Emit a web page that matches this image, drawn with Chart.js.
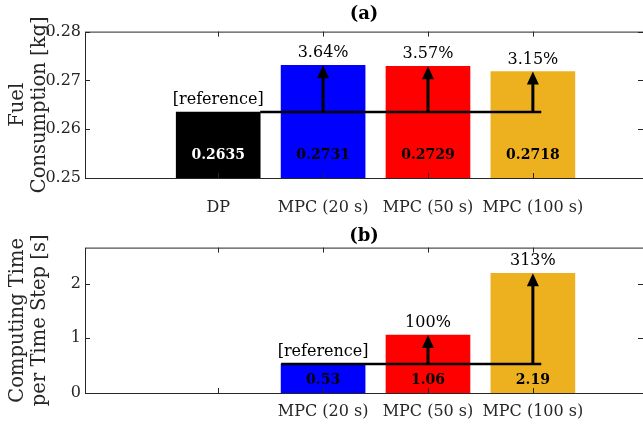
<!DOCTYPE html>
<html>
<head>
<meta charset="utf-8">
<script src="https://cdn.jsdelivr.net/npm/chart.js@4.4.1/dist/chart.umd.min.js"></script>
<style>
  html, body { margin: 0; padding: 0; background: #fff; overflow: hidden; }
  #wrap { position: relative; width: 643px; height: 426px; }
  canvas { position: absolute; left: 0; }
  #fuel { top: 0; }
  #time { top: 220px; }
</style>
</head>
<body>
<div id="wrap">
  <canvas id="fuel" width="643" height="220"></canvas>
  <canvas id="time" width="643" height="206"></canvas>
</div>
<script>
// (a) fuel consumption
const fuelCategories = ['DP', 'MPC (20 s)', 'MPC (50 s)', 'MPC (100 s)'];
const fuelValues = [0.2635, 0.2731, 0.2729, 0.2718];
const fuelIncrease = ['', '3.64%', '3.57%', '3.15%'];
const fuelTicks = [0.25, 0.26, 0.27, 0.28];

// (b) computing time, first slot left empty
const timeCategories = ['', 'MPC (20 s)', 'MPC (50 s)', 'MPC (100 s)'];
const timeValues = [null, 0.53, 1.06, 2.19];
const timeIncrease = ['', '', '100%', '313%'];
const timeTicks = [0, 1, 2];

const barColors = ['#000000', '#0000ff', '#ff0000', '#edb120'];

const SERIF = '"DejaVu Serif", serif';
const AXIS_COLOR = '#262626';
const TICK_LEN = 5;

const drawArrow = (ctx, x, y0, y1) => {
    const head = 13;
    ctx.beginPath();
    ctx.moveTo(x, y0);
    ctx.lineTo(x, y1 + head - 1);
    ctx.stroke();
    ctx.beginPath();
    ctx.moveTo(x, y1);
    ctx.lineTo(x - 6, y1 + head);
    ctx.lineTo(x + 6, y1 + head);
    ctx.closePath();
    ctx.fill();
}

const annotatePlugin = {
    id: 'annotate',
    afterDatasetsDraw(chart, args, opts) {
        const { ctx, chartArea: area, scales: { x, y } } = chart;
        const values = opts.values;
        const refIdx = opts.refIndex;
        const refY = y.getPixelForValue(values[refIdx]);

        ctx.save();
        // value labels inside the bars
        ctx.font = `bold 14px ${SERIF}`;
        ctx.textAlign = 'center';
        ctx.textBaseline = 'middle';
        values.forEach((v, i) => {
            if (v === null) return;
            ctx.fillStyle = barColors[i] === '#000000' ? '#ffffff' : '#000000';
            ctx.fillText(v.toFixed(opts.digits), x.getPixelForValue(i + 1), area.bottom - opts.labelOffset);
        });

        // reference line
        ctx.strokeStyle = '#000';
        ctx.fillStyle = '#000';
        ctx.lineWidth = 2.5;
        ctx.beginPath();
        ctx.moveTo(x.getPixelForValue(opts.lineFrom), refY);
        ctx.lineTo(x.getPixelForValue(opts.lineTo), refY);
        ctx.stroke();

        // arrows + percent text
        ctx.lineWidth = 3;
        ctx.font = `16px ${SERIF}`;
        ctx.textBaseline = 'bottom';
        values.forEach((v, i) => {
            if (v === null) return;
            const px = x.getPixelForValue(i + 1);
            const top = y.getPixelForValue(v);
            if (i === refIdx) {
                ctx.fillText('[reference]', px, top - 4);
                return;
            }
            drawArrow(ctx, px, refY, top);
            ctx.fillText(opts.increase[i], px, top - 4);
        });
        ctx.restore();
    },
    afterDraw(chart) {
        const { ctx, chartArea: area, scales: { x, y } } = chart;
        ctx.save();
        ctx.strokeStyle = AXIS_COLOR;
        ctx.lineWidth = 1;
        ctx.strokeRect(area.left + 0.5, area.top + 0.5, area.right - area.left, area.bottom - area.top);
        ctx.beginPath();
        x.ticks.forEach(t => {
            const px = Math.round(x.getPixelForValue(t.value)) + 0.5;
            ctx.moveTo(px, area.bottom);
            ctx.lineTo(px, area.bottom - TICK_LEN);
            ctx.moveTo(px, area.top);
            ctx.lineTo(px, area.top + TICK_LEN);
        });
        y.ticks.forEach(t => {
            const py = Math.round(y.getPixelForValue(t.value)) + 0.5;
            ctx.moveTo(area.left, py);
            ctx.lineTo(area.left + TICK_LEN, py);
            ctx.moveTo(area.right, py);
            ctx.lineTo(area.right - TICK_LEN, py);
        });
        ctx.stroke();
        ctx.restore();
    }
};

const makeChart = (id, cfg) => {
    const ctx = document.getElementById(id).getContext('2d');
    return new Chart(ctx, {
        type: 'bar',
        data: {
            datasets: [{
                data: cfg.values.map((v, i) => ({ x: i + 1, y: v })),
                backgroundColor: barColors,
                borderWidth: 0,
                barThickness: 84
            }]
        },
        options: {
            responsive: false,
            animation: false,
            devicePixelRatio: 1,
            layout: { padding: 0 },
            plugins: {
                legend: { display: false },
                tooltip: { enabled: false },
                title: {
                    display: true,
                    fullSize: false,
                    text: cfg.title,
                    color: '#000',
                    font: { family: SERIF, size: 18, weight: 'bold', lineHeight: 1.2 },
                    padding: cfg.titlePadding
                },
                annotate: {
                    values: cfg.values,
                    refIndex: cfg.refIndex,
                    increase: cfg.increase,
                    digits: cfg.digits,
                    labelOffset: cfg.labelOffset,
                    lineFrom: cfg.lineFrom,
                    lineTo: 4.08
                }
            },
            scales: {
                x: {
                    type: 'linear',
                    offset: false,
                    min: -0.27,
                    max: 5.05,
                    grid: { display: false, drawTicks: false },
                    border: { display: false },
                    afterBuildTicks: scale => {
                        scale.ticks = [1, 2, 3, 4].map(v => ({ value: v }));
                    },
                    afterFit: scale => { scale.height = cfg.xHeight; },
                    ticks: {
                        autoSkip: false,
                        maxRotation: 0,
                        padding: cfg.xPad,
                        color: AXIS_COLOR,
                        font: { family: SERIF, size: 16 },
                        callback: v => cfg.categories[v - 1] || ''
                    }
                },
                y: {
                    min: cfg.yMin,
                    max: cfg.yMax,
                    grid: { display: false, drawTicks: false },
                    border: { display: false },
                    afterBuildTicks: scale => {
                        scale.ticks = cfg.yTicks.map(v => ({ value: v }));
                    },
                    afterFit: scale => { scale.width = 85; },
                    title: {
                        display: true,
                        text: cfg.yTitle,
                        color: AXIS_COLOR,
                        font: { family: SERIF, size: 19.5, lineHeight: 1.12 },
                        padding: { top: 7, bottom: 0 }
                    },
                    ticks: {
                        padding: 4,
                        color: AXIS_COLOR,
                        font: { family: SERIF, size: 16 },
                        callback: cfg.yFormat
                    }
                }
            }
        },
        plugins: [annotatePlugin]
    });
}

makeChart('fuel', {
    title: '(a)',
    titlePadding: { top: 4, bottom: 6 },
    categories: fuelCategories,
    values: fuelValues,
    increase: fuelIncrease,
    refIndex: 0,
    digits: 4,
    labelOffset: 23,
    lineFrom: 1.4,
    yMin: 0.25,
    yMax: 0.28,
    yTicks: fuelTicks,
    yFormat: v => v.toFixed(2),
    yTitle: ['Fuel', 'Consumption [kg]'],
    xHeight: 42,
    xPad: 20
});

makeChart('time', {
    title: '(b)',
    titlePadding: { top: 6, bottom: 0 },
    categories: timeCategories,
    values: timeValues,
    increase: timeIncrease,
    refIndex: 1,
    digits: 2,
    labelOffset: 13,
    lineFrom: 1.6,
    yMin: 0,
    yMax: 2.66,
    yTicks: timeTicks,
    yFormat: v => String(v),
    yTitle: ['Computing Time', 'per Time Step [s]'],
    xHeight: 33,
    xPad: 9
});
</script>
</body>
</html>
